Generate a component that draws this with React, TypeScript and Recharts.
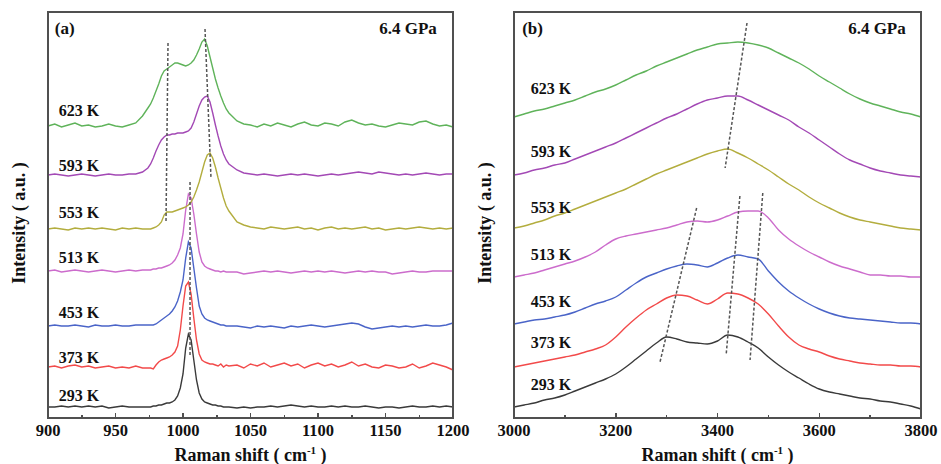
import React from 'react';
import { LineChart, Line, XAxis, YAxis, ReferenceLine, ReferenceDot } from 'recharts';

// ---------- shared ----------
const temps = ['293 K', '373 K', '453 K', '513 K', '553 K', '593 K', '623 K'];
const colors = ['#3a3a3a', '#f24a4a', '#4a64c8', '#cc6ccc', '#b3ad3e', '#a349b5', '#5fb35a'];
const pressureLabel = '6.4 GPa';

// ---------- panel (a): 900-1200 cm-1 ----------
const shiftA = [
  900, 905, 910, 915, 920, 925, 930, 935, 940, 945, 950, 955, 960, 965, 970,
  974, 976, 978, 980, 982, 984, 986, 988, 990, 992, 994, 996, 998, 1000, 1002, 1004, 1006, 1008, 1010, 1012,
  1014, 1016, 1018, 1020, 1022, 1024, 1026, 1028, 1030, 1032, 1034,
  1040, 1045, 1050, 1055, 1060, 1065, 1070, 1075, 1080, 1085, 1090, 1095, 1100, 1105, 1110, 1115, 1120,
  1125, 1130, 1135, 1140, 1145, 1150, 1155, 1160, 1165, 1170, 1175, 1180, 1185, 1190, 1195, 1200,
];
const a293 = [
  11, 11, 12, 11, 12, 11, 12, 11, 12, 10, 11, 12, 11, 11, 11,
  11, 11, 12, 12, 13, 13, 14, 15, 15, 16, 18, 22, 30, 44, 70, 84, 78, 58, 38, 25, 19, 16, 15, 14, 13, 13, 12, 12, 11, 11, 11,
  10, 11, 10, 11, 11, 12, 11, 12, 13, 12, 11, 12, 11, 11, 12, 11, 12, 11, 11, 12, 11, 10, 11, 11, 10, 11, 12, 11, 11, 12, 11, 12, 11,
];
const a373 = [
  51, 52, 50, 52, 53, 51, 52, 50, 51, 52, 50, 51, 50, 52, 50,
  50, 50, 49, 53, 56, 58, 59, 60, 61, 63, 66, 72, 88, 112, 132, 136, 124, 100, 78, 64, 58, 56, 55, 54, 54, 53, 52, 54, 51, 53, 52,
  53, 50, 54, 52, 55, 51, 53, 55, 52, 54, 50, 53, 55, 52, 54, 51, 53, 56, 52, 54, 51, 50, 53, 52, 50, 51, 54, 50, 52, 55, 53, 51, 48,
];
const a453 = [
  92, 93, 92, 92, 93, 92, 91, 93, 92, 92, 93, 92, 92, 93, 93,
  93, 93, 93, 94, 96, 98, 100, 102, 104, 107, 111, 117, 126, 138, 160, 176, 170, 150, 130, 112, 104, 100, 98, 97, 96, 95, 94, 93, 93, 92, 92,
  92, 91, 90, 92, 91, 92, 91, 90, 92, 91, 92, 93, 92, 91, 92, 93, 94, 95, 94, 91, 89, 90, 91, 92, 91, 92, 91, 92, 93, 92, 92, 93, 95,
];
const a513 = [
  147, 148, 146, 147, 148, 147, 146, 147, 148, 147, 146, 147, 148, 147, 148,
  148, 148, 149, 149, 150, 150, 151, 152, 153, 155, 158, 163, 170, 184, 208, 224, 220, 204, 184, 166, 156, 152, 150, 149, 148, 147, 147, 146, 147, 146, 146,
  146, 144, 145, 146, 147, 146, 147, 146, 145, 146, 147, 146, 147, 146, 147, 146, 145, 146, 147, 146, 147, 146, 146, 144, 145, 146, 147, 146, 146, 147, 147, 147, 147,
];
const a553 = [
  189, 190, 189, 188, 190, 189, 190, 189, 190, 189, 188, 190, 189, 190, 189,
  189, 189, 190, 191, 193, 196, 203, 206, 206, 206, 207, 208, 209, 210, 211, 213, 216, 221, 228, 236, 246, 256, 263, 265, 260, 251, 240, 230, 220, 212, 207,
  196, 193, 191, 190, 189, 191, 190, 189, 190, 191, 189, 190, 188, 190, 191, 189, 190, 189, 190, 191, 189, 190, 188, 189, 190, 189, 190, 191, 190, 189, 190, 189, 190,
];
const a593 = [
  243, 244, 243, 242, 243, 244, 243, 242, 243, 244, 243, 243, 244, 244, 246,
  250, 254, 260, 267, 273, 278, 281, 283, 283, 284, 284, 285, 285, 285, 286, 287, 290, 296, 304, 312, 318, 321, 322, 316, 305, 293, 282, 272, 264, 258, 254,
  248, 245, 244, 243, 244, 243, 242, 243, 244, 243, 244, 243, 242, 243, 244, 243, 244, 245, 246, 245, 244, 246, 245, 244, 243, 244, 243, 244, 245, 244, 243, 244, 244,
];
const a623 = [
  292, 294, 291, 293, 295, 292, 293, 291, 292, 294, 292, 291, 293, 295, 302,
  310, 314, 320, 327, 334, 342, 347, 349, 351, 353, 355, 355, 354, 353, 352, 353, 355, 358, 363, 369, 376, 379, 372, 361, 350, 339, 330, 322, 315, 309, 305,
  297, 294, 293, 291, 294, 292, 295, 293, 291, 294, 296, 293, 292, 295, 294, 292, 296, 298, 295, 293, 294, 292, 291, 293, 295, 294, 293, 296, 297, 294, 292, 293, 291,
];
const ticksA = [900, 925, 950, 975, 1000, 1025, 1050, 1075, 1100, 1125, 1150, 1175, 1200];
const labelXA = 908;
const labelYA = [23, 61, 106, 161, 206, 253, 308];
const tagPosA = { x: 905, y: 390 };
const pressurePosA = { x: 1188, y: 390 };
const guidesA = [
  [{ x: 1016.3, y: 389 }, { x: 1020.7, y: 241 }],
  [{ x: 988.9, y: 375 }, { x: 987.4, y: 195 }],
  [{ x: 1005.2, y: 236 }, { x: 1005.2, y: 63 }],
];

// ---------- panel (b): 3000-3800 cm-1 ----------
const shiftB = [
  3000, 3020, 3040, 3060, 3080, 3100, 3120, 3140, 3160, 3180, 3200, 3220, 3240, 3260, 3280, 3300, 3320, 3340, 3360, 3380,
  3400, 3420, 3440, 3460, 3480, 3500, 3520, 3540, 3560, 3580, 3600, 3620, 3640, 3660, 3680, 3700, 3720, 3740, 3760, 3780, 3800,
];
const b293 = [11, 13, 15, 18, 20, 23, 27, 31, 35, 39, 44, 51, 59, 67, 75, 81, 79, 76, 75, 74, 77, 83, 81, 76, 70, 61, 53, 46, 40, 34, 29, 26, 24, 22, 20, 19, 17, 16, 14, 12, 9];
const b373 = [51, 53, 55, 57, 59, 61, 63, 66, 69, 73, 81, 91, 100, 108, 114, 120, 123, 122, 118, 114, 119, 125, 124, 120, 114, 104, 92, 81, 73, 69, 66, 62, 59, 57, 55, 54, 53, 53, 52, 52, 51];
const b453 = [94, 96, 98, 99, 101, 103, 106, 110, 114, 117, 121, 128, 135, 141, 145, 149, 152, 154, 153, 151, 155, 160, 163, 161, 159, 147, 136, 127, 120, 114, 109, 105, 102, 100, 99, 98, 97, 96, 95, 95, 94];
const b513 = [141, 143, 145, 148, 151, 154, 157, 161, 166, 173, 179, 182, 184, 186, 188, 190, 193, 196, 197, 196, 198, 202, 206, 207, 207, 200, 188, 179, 172, 166, 161, 156, 152, 149, 146, 143, 143, 142, 142, 141, 141];
const b553 = [190, 192, 195, 198, 202, 205, 209, 213, 217, 221, 225, 229, 234, 239, 244, 248, 252, 256, 260, 264, 267, 269, 265, 260, 254, 248, 241, 234, 228, 221, 215, 210, 205, 201, 198, 196, 194, 192, 190, 189, 188];
const b593 = [243, 245, 248, 250, 253, 255, 259, 263, 267, 271, 275, 280, 285, 290, 295, 300, 304, 309, 314, 318, 320, 322, 322, 318, 313, 308, 303, 298, 291, 285, 278, 271, 264, 258, 254, 250, 247, 245, 243, 242, 241];
const b623 = [301, 304, 307, 309, 312, 315, 318, 322, 326, 329, 333, 338, 343, 347, 352, 356, 360, 364, 368, 371, 374, 375, 376, 375, 373, 370, 365, 360, 355, 349, 342, 336, 330, 324, 319, 315, 312, 309, 306, 304, 301];
const ticksB = [3000, 3100, 3200, 3300, 3400, 3500, 3600, 3700, 3800];
const labelXB = 3033;
const labelYB = [34, 76, 117, 164, 211, 267, 330];
const tagPosB = { x: 3016, y: 390 };
const pressurePosB = { x: 3770, y: 390 };
const guidesB = [
  [{ x: 3458, y: 395 }, { x: 3415, y: 250 }],
  [{ x: 3359, y: 210 }, { x: 3287, y: 56 }],
  [{ x: 3444, y: 222 }, { x: 3417, y: 63 }],
  [{ x: 3489, y: 225 }, { x: 3464, y: 58 }],
];

const buildRows = (xs: number[], series: number[][]) =>
  xs.map((x, i) => {
    const row: Record<string, number> = { x };
    series.forEach((s, k) => {
      row['s' + k] = s[i];
    });
    return row;
  });

const rowsA = buildRows(shiftA, [a293, a373, a453, a513, a553, a593, a623]);
const rowsB = buildRows(shiftB, [b293, b373, b453, b513, b553, b593, b623]);

const Y_MAX = 406;
const TEXT = '#111';
const FRAME = '#505050';
const PLOT_TOP = 12;
const PLOT_H = 406;
const TICK_MAJOR = 5;
const TICK_MINOR = 3;

const makeTick = (majorStep: number) => (props: any) => {
  const { x, y, payload } = props;
  if (payload.value % majorStep !== 0) return <g />;
  return (
    <text x={x} y={y + 18} textAnchor="middle" fontSize={16.5} fill={TEXT}>
      {payload.value}
    </text>
  );
};

const XTitle = (props: any) => {
  const vb = props.viewBox || {};
  const cx = vb.x + vb.width / 2;
  const y = vb.y + 43;
  return (
    <text x={cx} y={y} textAnchor="middle" fontSize={18} fill={TEXT}>
      Raman shift ( cm
      <tspan dy={-7} fontSize={11}>-1</tspan>
      <tspan dy={7}> )</tspan>
    </text>
  );
};

const YTitle = (props: any) => {
  const vb = props.viewBox || {};
  const x = vb.x + 16.5;
  const y = vb.y + vb.height / 2 + 8;
  return (
    <text x={x} y={y} transform={`rotate(-90, ${x}, ${y})`} textAnchor="middle" fontSize={18} fill={TEXT}>
      Intensity ( a.u. )
    </text>
  );
};

type Pos = { x: number; y: number };
type PanelProps = {
  rows: Record<string, number>[];
  domain: [number, number];
  ticks: number[];
  majorStep: number;
  labelX: number;
  labelY: number[];
  guides: Pos[][];
  tag: string;
  tagPos: Pos;
  pressurePos: Pos;
  marginLeft: number;
  width: number;
  marginRight: number;
  curve: 'linear' | 'monotone';
};

const Panel = (p: PanelProps) => {
  const plotLeft = p.marginLeft + 40;
  const plotW = p.width - plotLeft - p.marginRight;
  const span = p.domain[1] - p.domain[0];
  return (
    <div style={{ position: 'relative', width: p.width, height: 464 }}>
      <LineChart
        width={p.width}
        height={464}
        data={p.rows}
        margin={{ top: PLOT_TOP, right: p.marginRight, bottom: 16, left: p.marginLeft }}
      >
        <XAxis
          dataKey="x"
          type="number"
          domain={p.domain}
          ticks={p.ticks}
          interval={0}
          axisLine={false}
          tickLine={false}
          tickSize={0}
          tickMargin={0}
          height={30}
          tick={makeTick(p.majorStep)}
          label={(lp: any) => <XTitle {...lp} />}
        />
        <YAxis
          type="number"
          domain={[0, Y_MAX]}
          tick={false}
          axisLine={false}
          tickLine={false}
          width={40}
          label={(lp: any) => <YTitle {...lp} />}
        />
        {temps.map((t, k) => (
          <Line
            key={t}
            dataKey={'s' + k}
            type={p.curve}
            stroke={colors[k]}
            strokeWidth={1.4}
            dot={false}
            isAnimationActive={false}
          />
        ))}
        {p.guides.map((seg, i) => (
          <ReferenceLine key={'g' + i} segment={seg} stroke="#555" strokeWidth={1.5} strokeDasharray="3 2" />
        ))}
        {temps.map((t, k) => (
          <ReferenceDot
            key={'l' + t}
            x={p.labelX}
            y={p.labelY[k]}
            r={0}
            fill="none"
            stroke="none"
            label={{ value: t, position: 'right', offset: 0, fontSize: 16, fill: TEXT }}
          />
        ))}
        <ReferenceDot
          x={p.tagPos.x}
          y={p.tagPos.y}
          r={0}
          fill="none"
          stroke="none"
          label={{ value: p.tag, position: 'right', offset: 0, fontSize: 17, fill: TEXT }}
        />
        <ReferenceDot
          x={p.pressurePos.x}
          y={p.pressurePos.y}
          r={0}
          fill="none"
          stroke="none"
          label={{ value: pressureLabel, position: 'left', offset: 0, fontSize: 17, fill: TEXT }}
        />
      </LineChart>
      {/* plot frame and inward ticks (decoration, aligned to the axis domain) */}
      <div
        style={{
          position: 'absolute',
          left: plotLeft - 1,
          top: PLOT_TOP - 1,
          width: plotW + 2,
          height: PLOT_H + 2,
          border: `2px solid ${FRAME}`,
          boxSizing: 'border-box',
          pointerEvents: 'none',
          zIndex: 5,
        }}
      />
      {p.ticks.map((t) => {
        const len = t % p.majorStep === 0 ? TICK_MAJOR : TICK_MINOR;
        const left = plotLeft + ((t - p.domain[0]) / span) * plotW;
        return (
          <div
            key={'tk' + t}
            style={{
              position: 'absolute',
              left: left - 0.75,
              top: PLOT_TOP + PLOT_H - len,
              width: 1.5,
              height: len,
              background: FRAME,
              pointerEvents: 'none',
              zIndex: 5,
            }}
          />
        );
      })}
    </div>
  );
};

export default function App() {
  return (
    <div
      style={{
        position: 'absolute',
        left: 0,
        top: 0,
        width: 941,
        height: 464,
        background: '#fff',
        fontFamily: '"Liberation Serif", "Times New Roman", serif',
        fontWeight: 'bold',
      }}
    >
      <div style={{ position: 'absolute', left: 0, top: 0 }}>
        <Panel
          rows={rowsA}
          domain={[900, 1200]}
          ticks={ticksA}
          majorStep={50}
          labelX={labelXA}
          labelY={labelYA}
          guides={guidesA}
          tag="(a)"
          tagPos={tagPosA}
          pressurePos={pressurePosA}
          marginLeft={8}
          width={470}
          marginRight={17}
          curve="linear"
        />
      </div>
      <div style={{ position: 'absolute', left: 470, top: 0 }}>
        <Panel
          rows={rowsB}
          domain={[3000, 3800]}
          ticks={ticksB}
          majorStep={200}
          labelX={labelXB}
          labelY={labelYB}
          guides={guidesB}
          tag="(b)"
          tagPos={tagPosB}
          pressurePos={pressurePosB}
          marginLeft={4}
          width={471}
          marginRight={20}
          curve="monotone"
        />
      </div>
    </div>
  );
}
